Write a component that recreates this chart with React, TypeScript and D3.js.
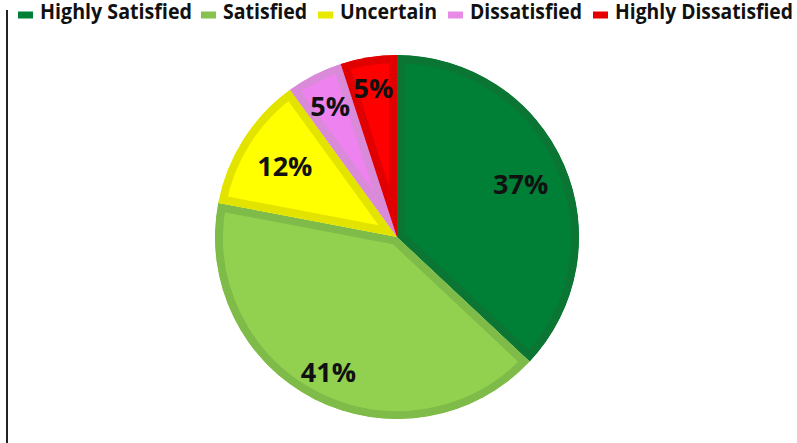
import React from "react";
import * as d3 from "d3";

const categories = ["Highly Satisfied", "Satisfied", "Uncertain", "Dissatisfied", "Highly Dissatisfied"];
const values = [37, 41, 12, 5, 5];
const fillColors = ["#007F37", "#92D050", "#FFFF00", "#EE82EE", "#FF0000"];
const borderColors = ["#0B7533", "#7EBB48", "#E3E300", "#D98AD9", "#E00000"];
const legendSwatchColors = ["#007F37", "#86C24D", "#E8E800", "#E78BE7", "#E60000"];
const labelRadiusFactors = [0.74, 0.83, 0.73, 0.81, 0.83];
const legendTextX = [40, 223, 340, 470, 615];
const legendTextW = [152, 84, 97, 112, 178];

const W = 797;
const H = 443;
const cx = 397;
const cy = 237;
const R = 182;

export default function App() {
  const pie = d3.pie<number>().sort(null).value((d) => d).startAngle(0).endAngle(2 * Math.PI);
  const arcs = pie(values);
  const arc = d3.arc<d3.PieArcDatum<number>>().innerRadius(0).outerRadius(R);
  const font = "'Open Sans', sans-serif";
  return (
    <svg width={W} height={H} style={{ position: "absolute", left: 0, top: 0, background: "#fff" }}>
      <defs>
        {arcs.map((a, i) => (
          <clipPath id={`clip${i}`} key={i}>
            <path d={arc(a) || ""} />
          </clipPath>
        ))}
      </defs>
      <line x1={7} x2={7} y1={10} y2={H} stroke="#222" strokeWidth={2} />
      <g transform={`translate(${cx},${cy})`}>
        {arcs.map((a, i) => (
          <path
            key={i}
            d={arc(a) || ""}
            fill={fillColors[i]}
            stroke={borderColors[i]}
            strokeWidth={16}
            clipPath={`url(#clip${i})`}
          />
        ))}
        {arcs.map((a, i) => {
          const mid = (a.startAngle + a.endAngle) / 2;
          const r = R * labelRadiusFactors[i];
          const x = r * Math.sin(mid);
          const y = -r * Math.cos(mid);
          return (
            <text
              key={i}
              x={x}
              y={y}
              textAnchor="middle"
              dominantBaseline="central"
              fontFamily={font}
              fontWeight="bold"
              fontSize={27}
              fill="#111"
            >
              {`${values[i]}%`}
            </text>
          );
        })}
      </g>
      <g>
        {categories.map((c, i) => (
          <g key={c}>
            <rect x={legendTextX[i] - 22} y={11.5} width={15} height={7} fill={legendSwatchColors[i]} />
            <text
              x={legendTextX[i]}
              y={19}
              fontFamily={font}
              fontWeight="bold"
              fontSize={22}
              fill="#111"
              textLength={legendTextW[i]}
              lengthAdjust="spacingAndGlyphs"
            >
              {c}
            </text>
          </g>
        ))}
      </g>
    </svg>
  );
}
